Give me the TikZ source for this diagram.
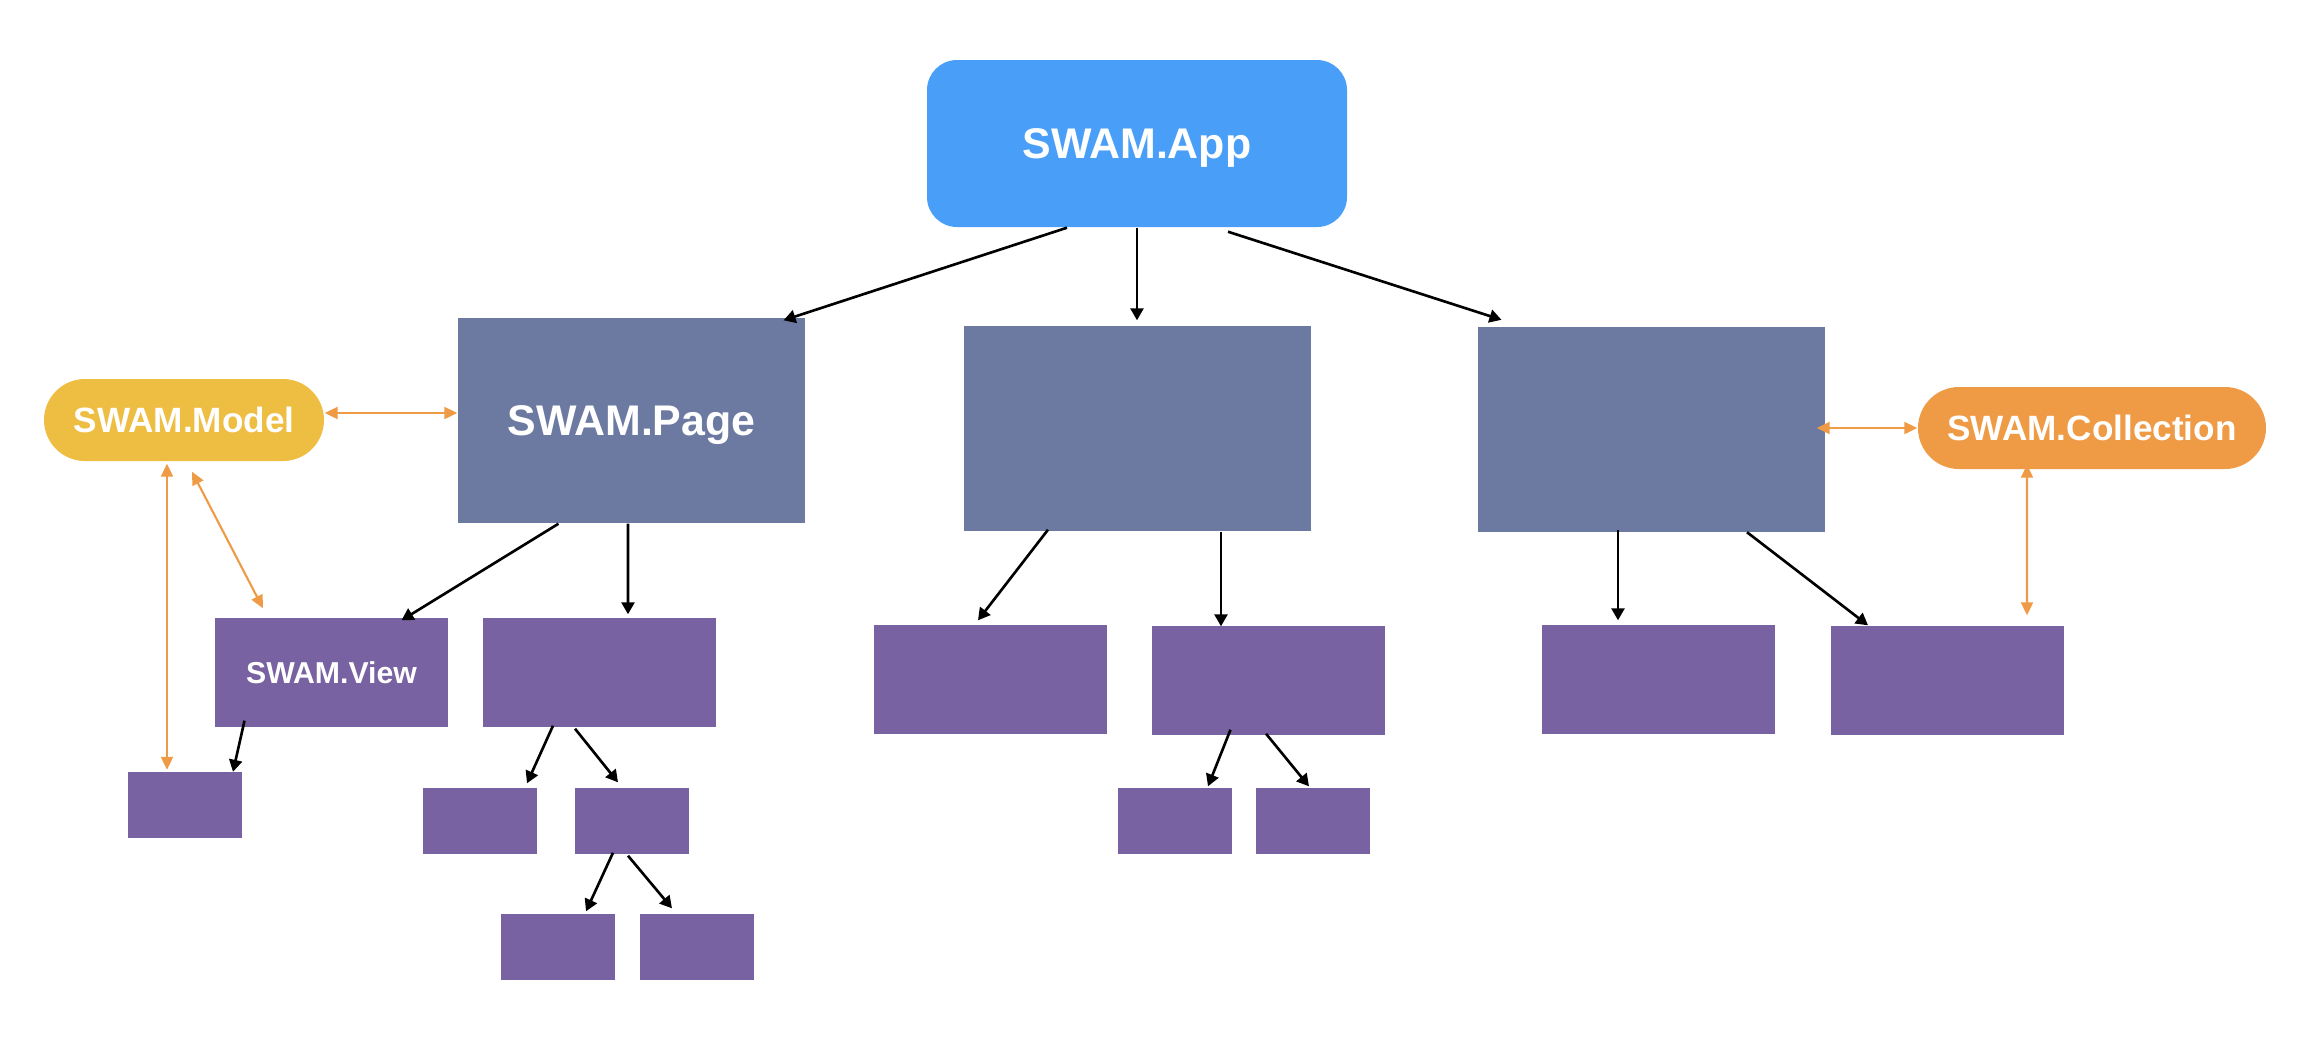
\documentclass[tikz,border=0pt]{standalone}
\usepackage{fontspec}
\setmainfont{Liberation Sans}
\usepackage{tikz}
\usetikzlibrary{arrows.meta,calc}
\definecolor{appblue}{RGB}{73,159,247}
\definecolor{pagegrey}{RGB}{108,121,161}
\definecolor{viewpurple}{RGB}{120,98,161}
\definecolor{modelyellow}{RGB}{238,190,67}
\definecolor{collorange}{RGB}{239,154,69}

\tikzset{
    appbox/.style={fill=appblue, rounded corners=3mm, minimum width=42mm, minimum height=16.7mm,
        inner sep=0pt, text=white, text height=8.7pt, text depth=0pt, font=\bfseries\fontsize{12.2}{14}\selectfont},
    pagebox/.style={fill=pagegrey, minimum width=34.7mm, minimum height=20.5mm,
        inner sep=0pt, text=white, text height=8.7pt, text depth=0pt, font=\bfseries\fontsize{12.2}{14}\selectfont},
    viewbox/.style={fill=viewpurple, minimum width=23.3mm, minimum height=10.9mm,
        inner sep=0pt, text=white, text height=6.2pt, text depth=0pt, font=\bfseries\fontsize{8.6}{10}\selectfont},
    leafbox/.style={fill=viewpurple, minimum width=11.4mm, minimum height=6.6mm, inner sep=0pt},
    pillbox/.style={rounded corners=4.1mm, minimum height=8.2mm, inner sep=0pt,
        text=white, text height=7.2pt, text depth=0pt, font=\bfseries\fontsize{10}{12}\selectfont},
    link/.style={-{Triangle[length=1.2mm,width=1.3mm]}, line width=0.75pt, black},
    sync/.style={{Triangle[length=1.3mm,width=1.2mm]}-{Triangle[length=1.3mm,width=1.2mm]},
        line width=0.6pt, collorange}
}

\begin{document}
\begin{tikzpicture}[x=0.1mm, y=-0.1mm]
\useasboundingbox (0,0) rectangle (2312,1046);

% app and pages
\node[appbox] (app) at (1137,143.5) {SWAM.App};
\node[pagebox] (page) at (631.5,420.5) {SWAM.Page};
\node[pagebox] (midpage) at (1137,428.5) {};
\node[pagebox] (collpage) at (1651.5,429) {};

% model and collection
\node[pillbox, fill=modelyellow, minimum width=28mm] (model) at (184,420) {SWAM.Model};
\node[pillbox, fill=collorange, minimum width=34.8mm] (coll) at (2092,428) {SWAM.Collection};

% views
\node[viewbox] (view) at (331.5,672.5) {SWAM.View};
\foreach \nm/\pos in {pview/{599.5,672.5}, mview1/{990.5,679.5}, mview2/{1268.5,680.5},
    cview1/{1658,679.5}, cview2/{1947.5,680.5}}{
    \node[viewbox] (\nm) at (\pos) {};
}

% small subviews
\foreach \nm/\pos in {vleaf/{184.5,804.5}, pleaf1/{480,821}, pleaf2/{632,821},
    pleaf3/{557.5,947}, pleaf4/{697,947}, mleaf1/{1175,821}, mleaf2/{1313,821}}{
    \node[leafbox] (\nm) at (\pos) {};
}

% ownership
\draw[link] ($(app.south)+(-70,0)$) -- ($(page.north)+(152,3)$);
\draw[link] (app.south) -- ($(midpage.north)+(0,-5)$);
\draw[link] ($(app.south)+(91,4)$) -- ($(collpage.north)+(-150,-6)$);
\draw[link] ($(page.south)+(-73,0)$) -- ($(view.north)+(70,3)$);
\draw[link] ($(page.south)+(-3.5,0)$) -- ($(pview.north)+(28.5,-3)$);
\draw[link] ($(view.south)+(-87,-7)$) -- ($(vleaf.north)+(48.5,1)$);
\draw[link] ($(pview.south)+(-46.5,-2)$) -- ($(pleaf1.north)+(47,-4)$);
\draw[link] ($(pview.south)+(-24.5,1)$) -- ($(pleaf2.north)+(-14,-5)$);
\draw[link] ($(pleaf2.south)+(-19,-2)$) -- ($(pleaf3.north)+(28.5,-2)$);
\draw[link] ($(pleaf2.south)+(-4,1)$) -- ($(pleaf4.north)+(-25,-5)$);
\draw[link] ($(midpage.south)+(-89,-2)$) -- ($(mview1.north)+(-12.5,-4)$);
\draw[link] ($(midpage.south)+(84,0)$) -- ($(mview2.north)+(-47.5,1)$);
\draw[link] ($(mview2.south)+(-38,-6)$) -- ($(mleaf1.north)+(33,-1)$);
\draw[link] ($(mview2.south)+(-2.5,-2)$) -- ($(mleaf2.north)+(-4,-1)$);
\draw[link] ($(collpage.south)+(-33.5,-2)$) -- ($(cview1.north)+(-40,-4)$);
\draw[link] ($(collpage.south)+(95.5,0)$) -- ($(cview2.north)+(-79.5,0)$);

% data binding
\draw[sync] ($(model.east)+(0,-7)$) -- ($(page.west)+(0,-7.5)$);
\draw[sync] ($(model.south)+(-17,2)$) -- ($(vleaf.north)+(-17.5,-1)$);
\draw[sync] ($(model.south)+(8,10)$) -- ($(view.north)+(-68.5,-9)$);
\draw[sync] ($(collpage.east)+(-9,-1)$) -- (coll.west);
\draw[sync] ($(coll.south)+(-65,-5)$) -- ($(cview2.north)+(79.5,-10)$);
\end{tikzpicture}
\end{document}
